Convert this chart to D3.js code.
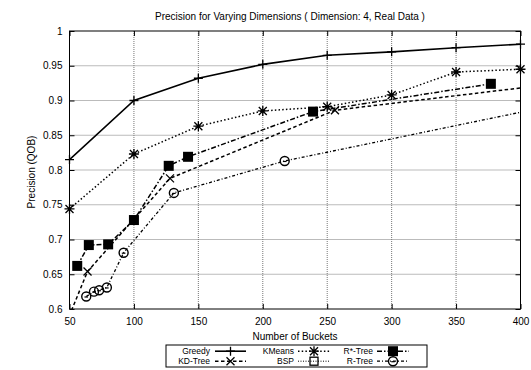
<!DOCTYPE html>
<html><head><meta charset="utf-8">
<script src="https://cdn.jsdelivr.net/npm/d3@7"></script>
<style>
body{margin:0;background:#fff;}
text{font-family:"Liberation Sans",Arial,sans-serif;fill:#000;}
</style></head>
<body><svg id="c" width="531" height="370"></svg>
<script>
// ---- data ----
const xTicks = [50,100,150,200,250,300,350,400];
const yTicks = [0.6,0.65,0.7,0.75,0.8,0.85,0.9,0.95,1];
const yTickLabels = ["0.6","0.65","0.7","0.75","0.8","0.85","0.9","0.95","1"];
const greedyX = [50,100,150,200,250,300,350,400];
const greedyY = [0.815,0.900,0.932,0.952,0.965,0.970,0.976,0.981];
const kmeansX = [50,100,150,200,250,300,350,400];
const kmeansY = [0.744,0.823,0.863,0.885,0.891,0.908,0.941,0.945];
const rstarX = [56,65,80,100,127,142,239,377];
const rstarY = [0.662,0.692,0.693,0.728,0.806,0.819,0.884,0.924];
const kdX = [32,64,128,256,512];
const kdY = [0.51,0.654,0.788,0.886,0.943];
const bspX = [];
const bspY = [];
const rtreeX = [63,69,73,79,92,131,217,512];
const rtreeY = [0.618,0.625,0.627,0.631,0.681,0.767,0.813,0.926];
const seriesNames = ["Greedy","KMeans","R*-Tree","KD-Tree","BSP","R-Tree"];

const svg = d3.select("#c");
const L=69.5, R=520.5, T=31, B=309;
const x = d3.scaleLinear().domain([50,400]).range([L,R]);
const y = d3.scaleLinear().domain([0.6,1]).range([B,T]);

svg.append("defs").append("clipPath").attr("id","clip")
  .append("rect").attr("x",L).attr("y",T).attr("width",R-L).attr("height",B-T);

// grid
const g = svg.append("g");
g.selectAll(".gx").data(xTicks.slice(1,-1)).enter().append("line")
  .attr("x1",d=>x(d)).attr("x2",d=>x(d)).attr("y1",T).attr("y2",B)
  .attr("stroke","#777").attr("stroke-width",1).attr("stroke-dasharray","1,1");
g.selectAll(".gy").data(yTicks.slice(1,-1)).enter().append("line")
  .attr("y1",d=>y(d)).attr("y2",d=>y(d)).attr("x1",L).attr("x2",R)
  .attr("stroke","#777").attr("stroke-width",1).attr("stroke-dasharray","1,1");

// axes via d3 axis (ticks inward)
const ax = d3.axisBottom(x).tickValues(xTicks).tickSize(-5).tickPadding(9).tickFormat(d3.format("d"));
const axb = svg.append("g").attr("transform",`translate(0,${B})`).call(ax);
const axt = svg.append("g").attr("transform",`translate(0,${T})`).call(d3.axisTop(x).tickValues(xTicks).tickSize(-5).tickFormat(""));
const ay = d3.axisLeft(y).tickValues(yTicks).tickSize(-5).tickPadding(7).tickFormat((d,i)=>yTickLabels[i]);
const ayl = svg.append("g").attr("transform",`translate(${L},0)`).call(ay);
const ayr = svg.append("g").attr("transform",`translate(${R},0)`).call(d3.axisRight(y).tickValues(yTicks).tickSize(-5).tickFormat(""));
[axb,axt,ayl,ayr].forEach(a=>{a.select(".domain").remove();a.selectAll("line").attr("stroke","#000");
  a.selectAll("text").style("font-family",'"Liberation Sans",Arial,sans-serif').style("font-size","10px").attr("fill","#000");});
svg.append("rect").attr("x",L).attr("y",T).attr("width",R-L).attr("height",B-T)
  .attr("fill","none").attr("stroke","#000").attr("stroke-width",1);

// titles
svg.append("text").attr("x",290).attr("y",19.5).attr("text-anchor","middle").style("font-size","10px")
  .text("Precision for Varying Dimensions ( Dimension: 4, Real Data )");
svg.append("text").attr("x",295).attr("y",340).attr("text-anchor","middle").style("font-size","10px").text("Number of Buckets");
svg.append("text").attr("transform","translate(35,172) rotate(-90)").attr("text-anchor","middle").style("font-size","10px").text("Precision (QOB)");

// markers
const M = {
  plus: "M-4.5,0H4.5M0,-4.5V4.5",
  cross: "M-4,-4L4,4M-4,4L4,-4",
  star: "M-5,0H5M0,-5V5M-4,-4L4,4M-4,4L4,-4",
};
function marker(sel, type){
  if(type==="square"){ sel.append("rect").attr("x",-5).attr("y",-5).attr("width",10).attr("height",10).attr("fill","#000"); }
  else if(type==="box"){ sel.append("rect").attr("x",-4).attr("y",-4).attr("width",8).attr("height",8).attr("fill","none").attr("stroke","#000").attr("stroke-width",1.3); }
  else if(type==="circle"){ sel.append("circle").attr("r",4.5).attr("fill","none").attr("stroke","#000").attr("stroke-width",1.4);
    sel.append("path").attr("d","M-1.8,0.5H1.8").attr("stroke","#000").attr("stroke-width",1.2); }
  else sel.append("path").attr("d",M[type]).attr("stroke","#000").attr("stroke-width",1.3).attr("fill","none");
}
const series = [
  {name:seriesNames[0], xs:greedyX, ys:greedyY, dash:null, w:1.6, m:"plus"},
  {name:seriesNames[1], xs:kmeansX, ys:kmeansY, dash:"1.5,2.2", w:1.5, m:"star"},
  {name:seriesNames[2], xs:rstarX, ys:rstarY, dash:"5,2,1.5,2", w:1.5, m:"square"},
  {name:seriesNames[3], xs:kdX, ys:kdY, dash:"3.5,2.5", w:1.5, m:"cross"},
  {name:seriesNames[4], xs:bspX, ys:bspY, dash:"1,1.5", w:1, m:"box"},
  {name:seriesNames[5], xs:rtreeX, ys:rtreeY, dash:"3,2,1,2", w:1.3, m:"circle"},
];
const line = d3.line().x(d=>x(d[0])).y(d=>y(d[1]));
const plot = svg.append("g").attr("clip-path","url(#clip)");
series.forEach(s=>{
  const pts = s.xs.map((v,i)=>[v,s.ys[i]]);
  plot.append("path").datum(pts).attr("d",line).attr("fill","none").attr("stroke","#000")
    .attr("stroke-width",s.w).attr("stroke-dasharray",s.dash);
});
series.forEach(s=>{
  const pts = s.xs.map((v,i)=>[v,s.ys[i]]).filter(p=>p[0]>=50&&p[0]<=400&&p[1]>=0.6&&p[1]<=1);
  pts.forEach(p=>{ marker(svg.append("g").attr("transform",`translate(${x(p[0])},${y(p[1])})`), s.m); });
});

// legend
svg.append("rect").attr("x",166).attr("y",345).attr("width",261).attr("height",22).attr("fill","#fff").attr("stroke","#000").attr("stroke-width",1);
const colTextX=[210,294,373], colLine=[[215,246],[298,330],[377,409]], rowY=[351.2,361.2];
const order=[[0,0],[1,0],[2,0],[0,1],[1,1],[2,1]]; // greedy,kmeans,r*, kd,bsp,rtree -> [col,row]
series.forEach((s,i)=>{
  const [c,r]=order[i];
  svg.append("text").attr("x",colTextX[c]).attr("y",rowY[r]+3.2).attr("text-anchor","end").style("font-size","8.5px").text(s.name);
  svg.append("line").attr("x1",colLine[c][0]).attr("x2",colLine[c][1]).attr("y1",rowY[r]).attr("y2",rowY[r])
    .attr("stroke","#000").attr("stroke-width",s.w).attr("stroke-dasharray",s.dash);
  marker(svg.append("g").attr("transform",`translate(${(colLine[c][0]+colLine[c][1])/2},${rowY[r]})`), s.m);
});
</script></body></html>
